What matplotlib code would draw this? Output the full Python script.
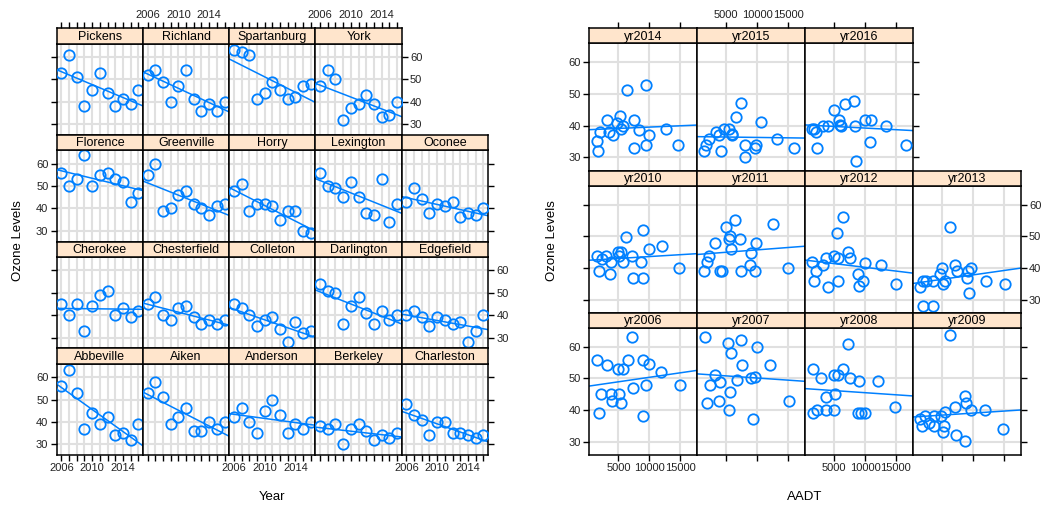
import numpy as np
import matplotlib
matplotlib.use("Agg")
import matplotlib.pyplot as plt

plt.rcParams["font.family"] = ["Liberation Sans", "DejaVu Sans"]

# ---- data: ozone by county (2006-2016) ----
years = np.arange(2006, 2017)
pickens      = [53, 61, 51, 38, 45, 53, 44, 38, 41, 39, 45]
richland     = [52, 54, 49, 40, 47, 54, 41, 36, 39, 36, 40]
spartanburg  = [63, 62, 61, 41, 44, 49, 45, 41, 42, 47, 48]
york         = [47, 54, 50, 32, 37, 39, 43, 39, 33, 34, 40]
florence     = [56, 50, 53, 64, 50, 55, 56, 53, 52, 43, 47]
greenville   = [55, 60, 39, 40, 46, 48, 42, 40, 37, 41, 42]
horry        = [48, 51, 39, 42, 42, 41, 35, 39, 39, 30, 29]
lexington    = [56, 50, 49, 45, 52, 45, 38, 37, 53, 34, 42]
oconee       = [43, 49, 44, 38, 42, 41, 43, 36, 38, 37, 40]
cherokee     = [45, 40, 45, 33, 44, 49, 51, 40, 43, 39, 42]
chesterfield = [45, 48, 40, 38, 43, 44, 39, 36, 38, 36, 38]
colleton     = [45, 43, 40, 35, 38, 39, 34, 28, 37, 32, 33]
darlington   = [54, 51, 50, 36, 44, 48, 41, 36, 42, 38, 40]
edgefield    = [40, 42, 39, 35, 39, 38, 36, 37, 28, 33, 40]
abbeville    = [56, 63, 53, 37, 44, 39, 42, 34, 35, 32, 39]
aiken        = [53, 58, 51, 39, 42, 46, 36, 36, 40, 37, 40]
anderson     = [42, 46, 40, 35, 45, 50, 43, 35, 39, 37, 40]
berkeley     = [38, 37, 39, 30, 37, 39, 36, 32, 34, 33, 35]
charleston   = [48, 43, 41, 34, 40, 40, 35, 35, 34, 33, 34]

county_rows = [
    [("Pickens", pickens), ("Richland", richland), ("Spartanburg", spartanburg), ("York", york)],
    [("Florence", florence), ("Greenville", greenville), ("Horry", horry), ("Lexington", lexington), ("Oconee", oconee)],
    [("Cherokee", cherokee), ("Chesterfield", chesterfield), ("Colleton", colleton), ("Darlington", darlington), ("Edgefield", edgefield)],
    [("Abbeville", abbeville), ("Aiken", aiken), ("Anderson", anderson), ("Berkeley", berkeley), ("Charleston", charleston)],
]

# ---- data: ozone vs AADT by year ----
aadt_2006 = [1595, 1865, 2243, 3108, 3811, 3919, 5000, 5162, 5378, 5703, 6621, 7270, 7324, 8946, 9054, 9432, 9865, 11864, 14891]
oz_2006   = [55.9, 39, 45, 54.2, 45, 43, 53, 45, 42.1, 53, 55.9, 63.1, 47.1, 55.9, 38, 48, 54.6, 52, 48]
aadt_2007 = [1595, 1865, 2405, 3108, 3865, 4027, 5216, 5432, 5540, 5757, 6784, 7378, 7594, 9054, 9324, 9702, 9973, 12135, 15216]
oz_2007   = [63.1, 42.1, 48, 51, 43, 49, 61.1, 40.1, 45.6, 58, 49.4, 62, 54.1, 50, 37.1, 50.5, 60, 54.1, 43]
aadt_2008 = [1541, 1649, 2297, 2892, 3703, 3703, 5000, 5162, 5000, 5703, 6513, 7324, 7486, 8838, 8946, 9324, 10027, 12027, 14892]
oz_2008   = [53, 39, 40.1, 50, 44, 40.1, 40.1, 45, 51, 51, 53, 61, 50, 39, 49.1, 39, 39, 49.1, 41]
aadt_2009 = [1487, 1757, 2297, 2838, 3649, 3757, 4892, 5270, 5162, 5541, 6351, 7162, 7324, 8783, 8946, 8783, 9703, 11918, 14892]
oz_2009   = [37.2, 35, 38.2, 36, 35, 38.2, 38.2, 35, 33.1, 39.3, 63.6, 41, 32.1, 44.6, 42.1, 30.2, 40.1, 40.1, 34.1]
aadt_2010 = [1487, 1865, 2297, 3000, 3649, 3811, 5000, 5162, 5378, 5703, 6243, 7162, 7432, 8675, 8946, 9054, 9865, 12026, 14837]
oz_2010   = [43.9, 39, 42.9, 43.9, 37.9, 41.9, 45, 43.9, 45, 41.9, 49.9, 43.9, 36.9, 41.9, 51.9, 36.9, 46, 46.9, 40]
aadt_2011 = [1433, 1865, 2243, 3216, 4027, 4297, 5000, 5486, 5540, 5703, 6351, 7270, 7378, 8892, 9000, 9594, 9865, 12567, 14999]
oz_2011   = [38.9, 41.9, 43.9, 48, 39, 39, 52.9, 49, 50, 46, 55, 49, 39, 41, 44.6, 39, 48, 53.9, 40]
aadt_2012 = [1433, 1757, 2081, 3270, 3649, 4081, 5054, 5432, 5595, 5703, 6405, 7324, 7486, 8838, 8946, 9595, 9919, 12621, 15054]
oz_2012   = [41.9, 36, 38.9, 41, 43, 33.9, 43.9, 51, 43, 36, 56.1, 45, 43, 37.9, 34.4, 36, 41.6, 41, 35]
aadt_2013 = [1379, 1919, 2459, 3487, 1919, 3541, 4622, 5054, 5162, 5541, 6243, 7162, 7432, 9054, 9324, 9162, 9703, 12189, 15270]
oz_2013   = [33.9, 36, 36, 36, 27.9, 27.9, 37.9, 40, 35, 36, 52.9, 41, 38.9, 36.9, 32, 38.9, 40, 36, 35]
aadt_2014 = [1487, 1757, 2027, 3108, 3486, 4189, 4730, 5270, 5378, 5703, 6459, 7540, 7595, 8405, 9486, 9486, 9865, 12730, 14621]
oz_2014   = [35, 31.9, 37.9, 41.9, 37.9, 36.9, 40.9, 43, 39, 39.9, 51.3, 41.9, 32.9, 38.5, 33.9, 52.9, 36.9, 38.9, 33.9]
aadt_2015 = [1325, 1757, 2135, 3324, 3757, 4135, 4568, 5486, 5865, 6000, 6567, 7378, 8081, 8081, 9594, 9865, 10621, 13216, 15919]
oz_2015   = [31.9, 33.9, 35.9, 37.9, 36.9, 31.9, 38.9, 38.9, 36.9, 37.2, 42.8, 47, 33.9, 30, 32.9, 33.9, 41, 35.9, 32.9]
aadt_2016 = [1379, 1811, 2081, 2297, 3270, 4081, 5000, 5811, 5973, 6081, 6784, 8135, 8405, 8513, 9919, 10999, 10837, 13432, 16675]
oz_2016   = [38.9, 38.9, 37.9, 32.9, 39.9, 39.9, 44.9, 41.9, 40.1, 39.9, 46.9, 47.9, 39.9, 28.8, 41.9, 41.9, 34.9, 39.9, 33.9]

year_rows = [
    [("yr2014", aadt_2014, oz_2014), ("yr2015", aadt_2015, oz_2015), ("yr2016", aadt_2016, oz_2016)],
    [("yr2010", aadt_2010, oz_2010), ("yr2011", aadt_2011, oz_2011), ("yr2012", aadt_2012, oz_2012), ("yr2013", aadt_2013, oz_2013)],
    [("yr2006", aadt_2006, oz_2006), ("yr2007", aadt_2007, oz_2007), ("yr2008", aadt_2008, oz_2008), ("yr2009", aadt_2009, oz_2009)],
]

ozone_ticks = [30, 40, 50, 60]
aadt_ticks = [5000, 10000, 15000]

BLUE = "#0080ff"
STRIP = "#ffe5cc"
GRID = "#e0e0e0"

W, H = 1047, 505
fig = plt.figure(figsize=(W / 100, H / 100), dpi=100)


def box(x0, y0, w, h):
    return fig.add_axes([x0 / W, 1 - (y0 + h) / H, w / W, h / H])


def panel(x0, y0, w, h, sh, name, xs, ys, xlim, ylim, xgrid, xticks, xlabels,
          r, c, nrows, ncols_row):
    ax = box(x0, y0 + sh, w, h - sh)
    st = box(x0, y0, w, sh)
    for g in xgrid:
        ax.axvline(g, color=GRID, lw=1.5, zorder=0)
    for g in ozone_ticks:
        ax.axhline(g, color=GRID, lw=1.5, zorder=0)
    xs = np.asarray(xs, float)
    ys = np.asarray(ys, float)
    ax.plot(xs, ys, "o", mfc="none", mec=BLUE, ms=7.5, mew=1.3, zorder=3)
    b1, b0 = np.polyfit(xs, ys, 1)
    xl = np.array(xlim)
    ax.plot(xl, b0 + b1 * xl, color=BLUE, lw=1.1, zorder=2)
    ax.set_xlim(xlim)
    ax.set_ylim(ylim)

    st.set_facecolor(STRIP)
    st.set_xlim(xlim)
    st.set_ylim(0, 1)
    st.text(0.5, 0.45, name, transform=st.transAxes, ha="center", va="center",
            fontsize=9)
    st.set_yticks([])

    for a in (ax, st):
        for s in a.spines.values():
            s.set_linewidth(1.1)
            s.set_color("black")

    from_bottom = nrows - 1 - r
    ax.set_yticks(ozone_ticks)
    ax.set_yticklabels([str(t) for t in ozone_ticks])
    ax.set_xticks(xticks)
    ax.set_xticklabels(xlabels)
    ax.tick_params(axis="both", direction="out", length=4, width=1,
                   labelsize=8, pad=2, labelcolor="#222222",
                   left=(c == 0), labelleft=(c == 0 and from_bottom % 2 == 0),
                   right=(c == ncols_row - 1),
                   labelright=(c == ncols_row - 1 and from_bottom % 2 == 1),
                   bottom=(r == nrows - 1),
                   labelbottom=(r == nrows - 1 and c % 2 == 0),
                   top=False, labeltop=False)
    st.set_xticks(xticks)
    st.set_xticklabels(xlabels)
    st.tick_params(axis="x", direction="out", length=4, width=1,
                   labelsize=8, pad=2, labelcolor="#222222",
                   bottom=False, labelbottom=False,
                   top=(r == 0), labeltop=(r == 0 and c % 2 == 1))
    return ax


# ---- left: ozone by year, one panel per county ----
lw_, lh_, lsh = 86.25, 106.75, 15.5
year_labels = [str(y) if y in (2006, 2010, 2014) else "" for y in years]
for r, row in enumerate(county_rows):
    for c, (name, vals) in enumerate(row):
        panel(56.7 + c * lw_, 28 + r * lh_, lw_, lh_, lsh, name, years, vals,
              (2005.4, 2016.6), (25.2, 66), years, years, year_labels,
              r, c, len(county_rows), len(row))

# ---- right: ozone vs AADT, one panel per year ----
rw_, rh_, rsh = 107.85, 142.25, 15
for r, row in enumerate(year_rows):
    for c, (name, xs, ys) in enumerate(row):
        panel(589.3 + c * rw_, 28.3 + r * rh_, rw_, rh_, rsh, name, xs, ys,
              (290, 17730), (25.8, 66), aadt_ticks, aadt_ticks,
              [str(t) for t in aadt_ticks],
              r, c, len(year_rows), len(row))

fig.text(18 / W, 1 - 241 / H, "Ozone Levels", rotation=90, ha="center",
         va="center", fontsize=9.5)
fig.text(552 / W, 1 - 241 / H, "Ozone Levels", rotation=90, ha="center",
         va="center", fontsize=9.5)
fig.text(272 / W, 1 - 497 / H, "Year", ha="center", va="center", fontsize=9.5)
fig.text(805 / W, 1 - 497 / H, "AADT", ha="center", va="center", fontsize=9.5)

fig.savefig("out.png", dpi=100)
